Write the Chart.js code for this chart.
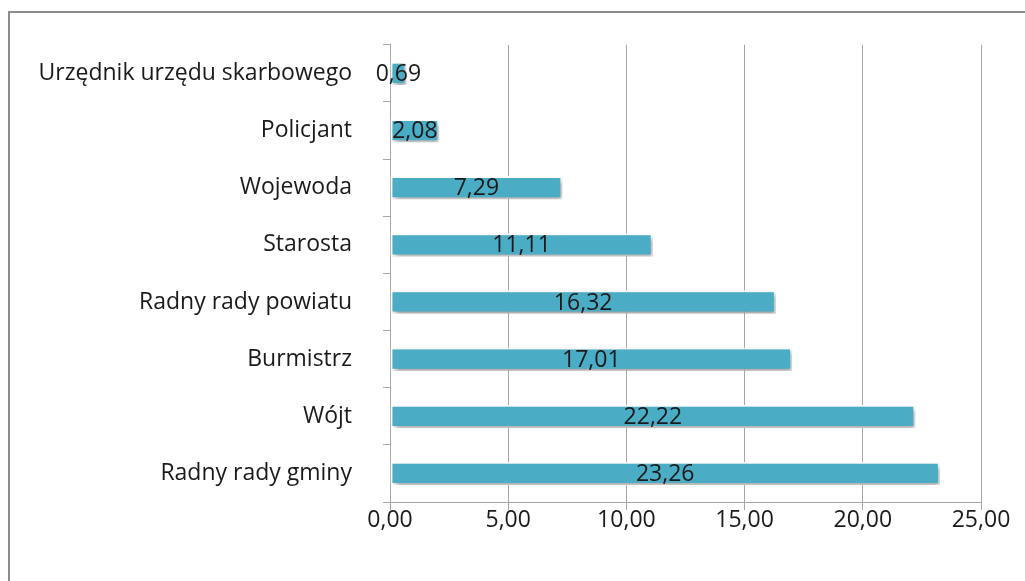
<!DOCTYPE html>
<html>
<head>
<meta charset="utf-8">
<script src="https://cdn.jsdelivr.net/npm/chart.js@4"></script>
<style>
  html, body { margin: 0; padding: 0; background: #fff; }
  #wrap { width: 1025px; height: 581px; }
</style>
</head>
<body>
<div id="wrap"><canvas id="stanowiska"></canvas></div>
<script>
// dane
var categories = [
    "Urzędnik urzędu skarbowego",
    "Policjant",
    "Wojewoda",
    "Starosta",
    "Radny rady powiatu",
    "Burmistrz",
    "Wójt",
    "Radny rady gminy"
];
var values = [0.69, 2.08, 7.29, 11.11, 16.32, 17.01, 22.22, 23.26];
var xTicks = [0, 5, 10, 15, 20, 25];

var FONT = "'Open Sans', sans-serif";
var FSIZE = 23;

function fmt(v) {
    return v.toFixed(2).replace(".", ",");
}

// ramka wokol wykresu
var framePlugin = {
    id: "frame",
    beforeDraw: function (chart) {
        var c = chart.ctx;
        c.save();
        c.strokeStyle = "#8c8c8c";
        c.lineWidth = 2;
        c.beginPath();
        c.moveTo(9, 600);
        c.lineTo(9, 12);
        c.lineTo(1030, 12);
        c.stroke();
        c.restore();
    }
};

// cien pod slupkami
var shadowPlugin = {
    id: "barShadow",
    beforeDatasetDraw: function (chart) {
        var c = chart.ctx;
        c.save();
        c.shadowColor = "rgba(0,0,0,0.38)";
        c.shadowBlur = 5;
        c.shadowOffsetX = 2;
        c.shadowOffsetY = 3;
    },
    afterDatasetDraw: function (chart) {
        chart.ctx.restore();
    }
};

// etykiety wartosci na srodku slupka
var labelPlugin = {
    id: "valueLabels",
    afterDatasetsDraw: function (chart) {
        var c = chart.ctx;
        var meta = chart.getDatasetMeta(0);
        c.save();
        c.font = FSIZE + "px " + FONT;
        c.fillStyle = "#1a1a1a";
        c.textAlign = "center";
        c.textBaseline = "middle";
        meta.data.forEach(function (bar, i) {
            var cx = (bar.x + bar.base) / 2;
            c.fillText(fmt(values[i]), cx, bar.y + 1);
        });
        c.restore();
    }
};

var ctx = document.getElementById("stanowiska").getContext("2d");
var chart = new Chart(ctx, {
    type: "bar",
    data: {
        labels: categories,
        datasets: [{
            data: values,
            backgroundColor: "#4bacc6",
            borderColor: "#ffffff",
            borderWidth: 2,
            borderSkipped: false,
            barPercentage: 0.55,
            categoryPercentage: 0.74
        }]
    },
    options: {
        indexAxis: "y",
        responsive: true,
        maintainAspectRatio: false,
        animation: false,
        layout: { padding: { left: 0, right: 44, top: 39, bottom: 0 } },
        plugins: {
            legend: { display: false },
            tooltip: { enabled: false }
        },
        scales: {
            x: {
                min: 0,
                max: 25,
                afterBuildTicks: function (scale) {
                    scale.ticks = xTicks.map(function (v) { return { value: v }; });
                },
                afterFit: function (scale) { scale.height = 79; },
                grid: {
                    color: "#a6a6a6",
                    lineWidth: 1,
                    tickLength: 8,
                    drawTicks: true
                },
                border: { color: "#a6a6a6", width: 1 },
                ticks: {
                    color: "#1a1a1a",
                    font: { family: FONT, size: FSIZE },
                    padding: -3,
                    maxRotation: 0,
                    callback: function (v) { return fmt(v); }
                }
            },
            y: {
                afterFit: function (scale) { scale.width = 390; },
                grid: {
                    drawOnChartArea: false,
                    color: "#a6a6a6",
                    tickLength: 7,
                    offset: true
                },
                border: { color: "#a6a6a6", width: 1 },
                ticks: {
                    color: "#1a1a1a",
                    font: { family: FONT, size: FSIZE },
                    padding: 31
                }
            }
        }
    },
    plugins: [framePlugin, shadowPlugin, labelPlugin]
});
</script>
</body>
</html>
